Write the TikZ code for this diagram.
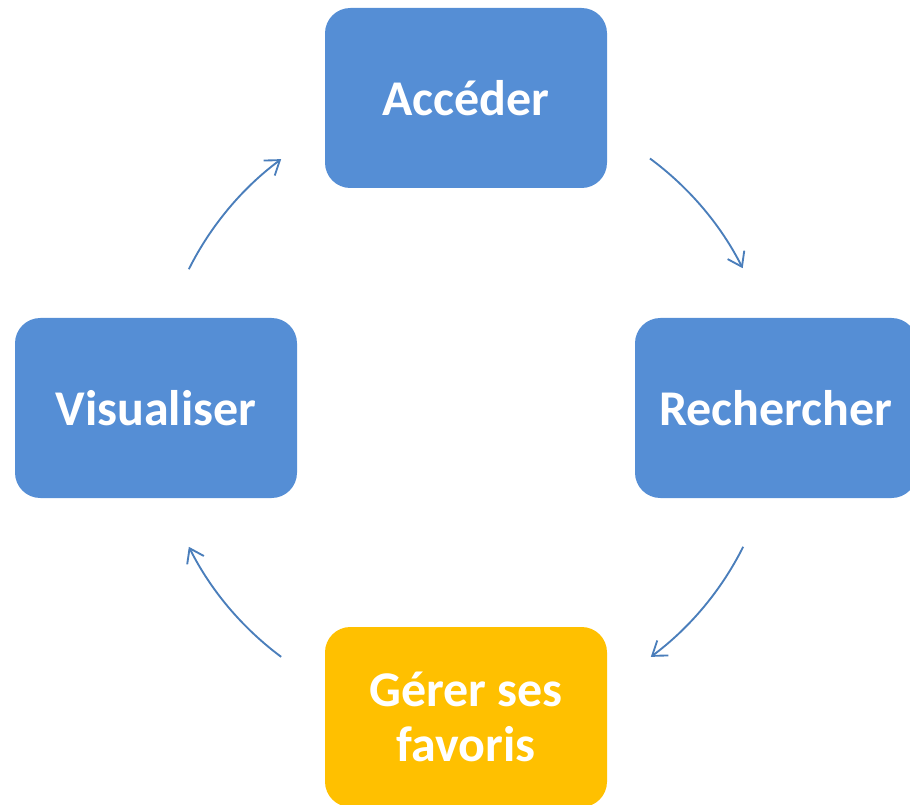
\documentclass[tikz,border=0pt]{standalone}
\usepackage{fontspec}
\setmainfont{Carlito}
\usetikzlibrary{arrows.meta,calc}
\definecolor{boxblue}{RGB}{85,142,213}
\definecolor{boxgold}{RGB}{255,192,0}
\definecolor{arcblue}{RGB}{74,126,187}
\begin{document}
\begin{tikzpicture}[x=0.75pt,y=-0.75pt,
    etape/.style={rounded corners=19pt, minimum width=211.5pt, minimum height=135pt,
      inner sep=0pt, text=white, align=center,
      font=\fontsize{37.5}{41.5}\selectfont\bfseries},
    cycle/.style={draw=arcblue, line width=1.4pt,
      -{Straight Barb[length=10pt,width=14pt]}}]
        \useasboundingbox (0,0) rectangle (910,805);
        \node[etape, fill=boxblue] (acceder) at (466,98) {Accéder};
        \node[etape, fill=boxblue] (rechercher) at (776,408) {Rechercher};
        \node[etape, fill=boxgold] (favoris) at (466,717) {Gérer ses\\favoris};
        \node[etape, fill=boxblue] (visualiser) at (156,408) {Visualiser};
        %%
        \coordinate (centre) at (466,408);
        \coordinate (acc-out) at ($(centre)+(-53.6:310)$);
        \coordinate (rech-out) at ($(centre)+(26.6:310)$);
        \coordinate (fav-out) at ($(centre)+(126.6:310)$);
        \coordinate (vis-out) at ($(centre)+(206.6:310)$);
        %%
          \draw[cycle] (acc-out) arc[start angle=-53.6, end angle=-26.8, radius=310];
          \draw[cycle] (rech-out) arc[start angle=26.6, end angle=53.4, radius=310];
          \draw[cycle] (fav-out) arc[start angle=126.6, end angle=153.4, radius=310];
          \draw[cycle] (vis-out) arc[start angle=206.6, end angle=233.4, radius=310];
      \end{tikzpicture}
\end{document}
